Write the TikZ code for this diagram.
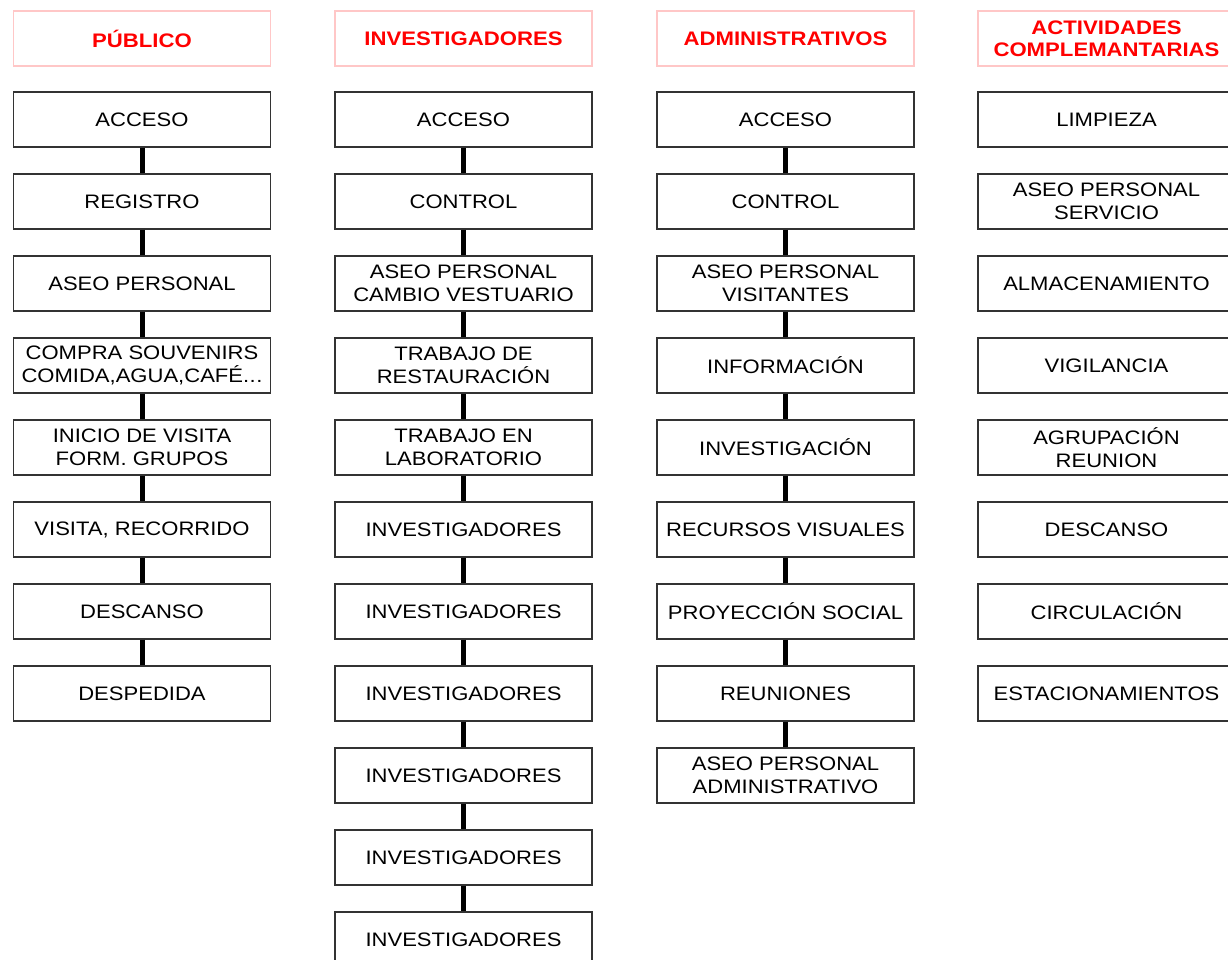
\documentclass[tikz,border=0pt]{standalone}
\usepackage{fontspec}
\setmainfont{Liberation Sans}[FakeStretch=1.13]
\tikzset{
        colhead/.style={
                draw=red!22,
                line width=1.2pt,
                minimum width=257pt,
                minimum height=55pt,
                inner sep=0pt,
                align=center,
                text=red,
                font=\bfseries\fontsize{19.6}{22}\selectfont
        },
        stage/.style={
                draw=black!80,
                line width=1.2pt,
                minimum width=257pt,
                minimum height=55pt,
                inner sep=0pt,
                align=center,
                font=\fontsize{19.5}{23.5}\selectfont
        },
        flowlink/.style={
                draw=black,
                line width=5pt
        }
}

\begin{document}
\begin{tikzpicture}[x=1pt,y=-1pt]
                        \useasboundingbox (0,0) rectangle (1228,960);

                        \node[colhead] (hp) at (142,38.5) {PÚBLICO};
                        \node[colhead] (hi) at (463.5,38.5) {INVESTIGADORES};
                        \node[colhead] (ha) at (785.5,38.5) {ADMINISTRATIVOS};
                        \node[colhead] (hc) at (1106.5,38.5) {ACTIVIDADES\\COMPLEMANTARIAS};

                        \foreach \t [count=\i] in {ACCESO, REGISTRO, ASEO PERSONAL,
                            {COMPRA SOUVENIRS\\COMIDA,AGUA,CAFÉ.\kern0.5pt.\kern0.5pt.}, {INICIO DE VISITA\\FORM. GRUPOS},
                            {VISITA, RECORRIDO}, DESCANSO, DESPEDIDA} {
                            \node[stage] (p\i) at (142,{37.5+82*\i}) {\t};
                        }

                        \foreach \t [count=\i] in {ACCESO, CONTROL, {ASEO PERSONAL\\CAMBIO VESTUARIO},
                            {TRABAJO DE\\RESTAURACIÓN}, {TRABAJO EN\\LABORATORIO},
                            INVESTIGADORES, INVESTIGADORES, INVESTIGADORES,
                            INVESTIGADORES, INVESTIGADORES, INVESTIGADORES} {
                            \node[stage] (i\i) at (463.5,{37.5+82*\i}) {\t};
                        }

                        \foreach \t [count=\i] in {ACCESO, CONTROL, {ASEO PERSONAL\\VISITANTES},
                            INFORMACIÓN, INVESTIGACIÓN, RECURSOS VISUALES, PROYECCIÓN SOCIAL,
                            REUNIONES, {ASEO PERSONAL\\ADMINISTRATIVO}} {
                            \node[stage] (a\i) at (785.5,{37.5+82*\i}) {\t};
                        }

                        \foreach \t [count=\i] in {LIMPIEZA, {ASEO PERSONAL\\SERVICIO}, ALMACENAMIENTO,
                            VIGILANCIA, {AGRUPACIÓN\\REUNION}, DESCANSO, CIRCULACIÓN,
                            ESTACIONAMIENTOS} {
                            \node[stage] (c\i) at (1106.5,{37.5+82*\i}) {\t};
                        }

                        \foreach \i [count=\j from 2] in {1,...,7} {
                            \draw[flowlink] (p\i) -- (p\j);
                        }
                        \foreach \i [count=\j from 2] in {1,...,10} {
                            \draw[flowlink] (i\i) -- (i\j);
                        }
                        \foreach \i [count=\j from 2] in {1,...,8} {
                            \draw[flowlink] (a\i) -- (a\j);
                        }

                    \end{tikzpicture}
\end{document}
